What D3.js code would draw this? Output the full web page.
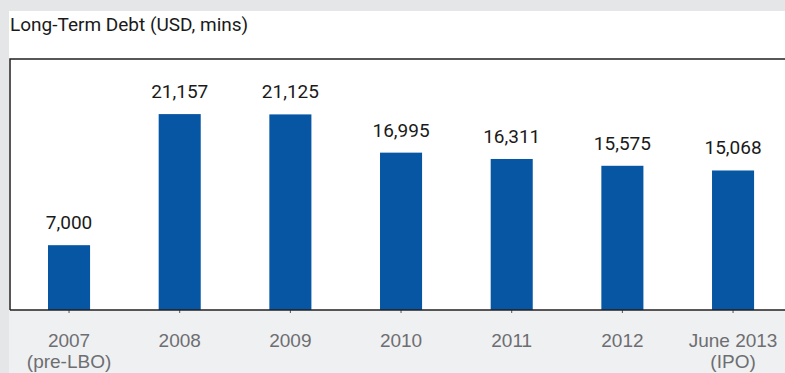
<!DOCTYPE html>
<html>
<head>
<meta charset="utf-8">
<script src="https://cdn.jsdelivr.net/npm/d3@7"></script>
<style>
  body { margin: 0; background: #e6e7e8; }
  svg { display: block; font-family: Roboto, "Open Sans", sans-serif; }
</style>
</head>
<body>
<div id="chart"></div>
<script>
// data
const categories = ["2007\n(pre-LBO)", "2008", "2009", "2010", "2011", "2012", "June 2013\n(IPO)"];
const debtValues = [7000, 21157, 21125, 16995, 16311, 15575, 15068];
const chartTitle = "Long-Term Debt (USD, mins)";

const W = 785, H = 373;
const panelLeft = 9, panelTop = 11;
const plotTop = 59, plotBottom = 310;

const svg = d3.select("#chart")
    .append("svg")
    .attr("width", W)
    .attr("height", H);

// backgrounds
svg.append("rect")
    .attr("x", 0).attr("y", 0).attr("width", W).attr("height", H)
    .attr("fill", "#e5e6e8");

svg.append("rect")
    .attr("x", panelLeft).attr("y", plotBottom)
    .attr("width", W - panelLeft).attr("height", H - plotBottom)
    .attr("fill", "#eff0f1");

svg.append("rect")
    .attr("x", panelLeft).attr("y", panelTop)
    .attr("width", W - panelLeft).attr("height", plotBottom - panelTop)
    .attr("fill", "#ffffff");

svg.append("text")
    .attr("x", 10)
    .attr("y", 31)
    .attr("font-size", 19)
    .attr("fill", "#1a1a1a")
    .text(chartTitle);

const xScale = d3.scaleBand()
    .domain(categories)
    .range([13.7, 13.7 + 110.67 * categories.length])
    .paddingInner(0.62)
    .paddingOuter(0.31);

const yScale = d3.scaleLinear()
    .domain([0, 27000])
    .range([plotBottom, 60]);

// frame
svg.append("path")
    .attr("d", `M${W},${plotTop}H10V${plotBottom}`)
    .attr("fill", "none")
    .attr("stroke", "#231f20")
    .attr("stroke-width", 1.5);

svg.selectAll("rect.bar")
    .data(debtValues)
    .enter()
    .append("rect")
    .attr("class", "bar")
    .attr("x", (d, i) => xScale(categories[i]))
    .attr("y", d => yScale(d))
    .attr("width", xScale.bandwidth())
    .attr("height", d => plotBottom - yScale(d))
    .attr("fill", "#0656a3");

svg.selectAll("text.val")
    .data(debtValues)
    .enter()
    .append("text")
    .attr("class", "val")
    .attr("x", (d, i) => xScale(categories[i]) + xScale.bandwidth() / 2)
    .attr("y", d => yScale(d) - 16)
    .attr("text-anchor", "middle")
    .attr("font-size", 19)
    .attr("fill", "#1a1a1a")
    .text(d => d3.format(",")(d));

// x axis
const xAxis = svg.append("g")
    .attr("transform", `translate(0,${plotBottom})`)
    .call(d3.axisBottom(xScale).tickSize(3).tickFormat(""));

xAxis.select(".domain").remove();
xAxis.selectAll(".tick line").attr("stroke", "#555");

xAxis.selectAll(".tick")
    .append("text")
    .attr("fill", "#6d6e71")
    .attr("font-size", 19)
    .attr("text-anchor", "middle")
    .selectAll("tspan")
    .data(d => d.split("\n"))
    .enter()
    .append("tspan")
    .attr("x", 0)
    .attr("y", (d, i) => 37 + i * 21)
    .text(d => d);

svg.append("line")
    .attr("x1", 10).attr("x2", W)
    .attr("y1", plotBottom).attr("y2", plotBottom)
    .attr("stroke", "#231f20")
    .attr("stroke-width", 1.5);
</script>
</body>
</html>
